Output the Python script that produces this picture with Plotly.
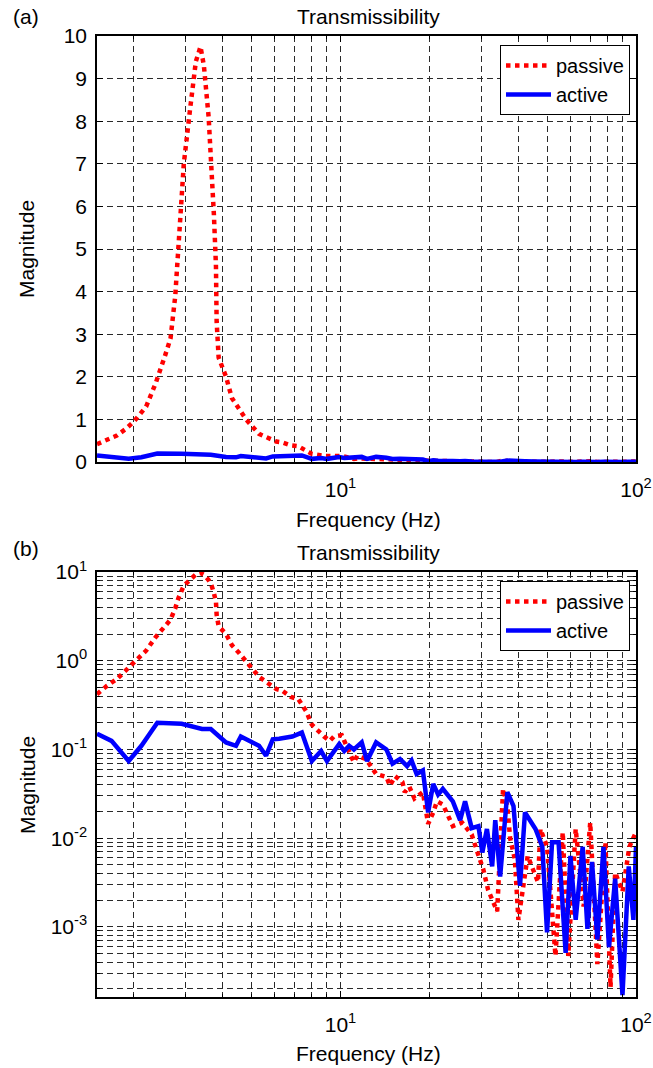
import plotly.graph_objects as go

# ---------------- data ----------------
passive_f = [1.5, 1.62, 1.75, 1.88, 2.0, 2.2, 2.37, 2.55, 2.66, 2.76, 2.83, 2.95, 3.1, 3.24, 3.36,
             3.45, 3.58, 3.67, 3.73, 3.79, 3.81, 3.87, 4.1, 4.29, 4.54, 4.79, 5.3, 6.06, 6.35,
             6.8, 7.2, 7.65, 8.0, 8.8, 9.2, 9.5, 10.1, 10.7, 11.1, 11.4, 12.2, 13.2, 14.3,
             14.7, 15.3, 16.2, 16.5, 17.1, 17.8, 19.0, 19.8, 20.6, 21.2, 22.2, 24.0, 25.8,
             27.8, 29.0, 30.4, 31.6, 33.9, 35.5, 36.7, 37.5, 38.9, 40.0, 43.0, 46.6, 47.5,
             50.0, 53.4, 56.5, 59.0, 62.5, 66.5, 70.0, 74.0, 78.8, 82.0, 85.0, 90.0, 95.0, 100.0]
passive_m = [0.42, 0.52, 0.62, 0.78, 0.95, 1.3, 1.85, 2.5, 2.9, 3.9, 5.1, 7.0, 8.3, 9.4, 9.75,
             9.3, 8.1, 6.9, 5.8, 4.6, 3.3, 2.45, 2.0, 1.5, 1.22, 1.0, 0.66, 0.48, 0.46,
             0.39, 0.37, 0.27, 0.19, 0.14, 0.125, 0.14, 0.145, 0.094, 0.072, 0.085, 0.078, 0.053, 0.049,
             0.039, 0.05, 0.043, 0.033, 0.038, 0.028, 0.033, 0.0145, 0.0195, 0.026, 0.024, 0.0137, 0.015,
             0.011, 0.0071, 0.0045, 0.0026, 0.0015, 0.036, 0.023, 0.01, 0.0058, 0.0012, 0.0063, 0.0032, 0.0127,
             0.008, 0.00047, 0.0117, 0.00047, 0.0127, 0.0017, 0.015, 0.00038, 0.009, 0.00021, 0.0041, 0.0025, 0.008, 0.0117]

active_f = [1.5, 1.68, 1.92, 2.12, 2.4, 2.9, 3.4, 3.64, 4.1, 4.43, 4.6, 5.3, 5.6, 5.9, 6.2,
            6.87, 7.4, 8.0, 8.6, 9.0, 9.9, 10.3, 10.7, 11.1, 11.8, 12.3, 13.2, 14.3, 15.0,
            15.9, 16.8, 17.4, 18.1, 19.0, 19.8, 20.6, 21.4, 22.2, 24.0, 25.4, 26.4, 27.8, 29.3,
            30.2, 31.3, 32.6, 33.4, 34.7, 36.7, 38.5, 40.5, 42.1, 45.7, 48.2, 50.0, 52.0, 54.7,
            57.8, 60.0, 62.5, 66.0, 68.5, 71.0, 74.0, 77.6, 81.0, 85.0, 90.0, 94.5, 98.0, 100.0]
active_m = [0.15, 0.125, 0.074, 0.11, 0.2, 0.195, 0.17, 0.17, 0.12, 0.11, 0.14, 0.11, 0.085, 0.13, 0.132,
            0.14, 0.155, 0.074, 0.096, 0.074, 0.115, 0.096, 0.11, 0.1, 0.12, 0.074, 0.12, 0.1, 0.069,
            0.078, 0.065, 0.075, 0.053, 0.058, 0.0195, 0.041, 0.031, 0.036, 0.026, 0.016, 0.026, 0.013, 0.0137,
            0.0069, 0.0127, 0.0048, 0.016, 0.0037, 0.033, 0.023, 0.0029, 0.0195, 0.0127, 0.008, 0.00087, 0.009, 0.009,
            0.00051, 0.0063, 0.0012, 0.008, 0.00095, 0.0054, 0.00072, 0.008, 0.00059, 0.0035, 0.00017, 0.0048, 0.0012, 0.008]

# ---------------- ticks ----------------
x_tickvals = [10, 100]
x_ticktext = ["10<sup>1</sup>", "10<sup>2</sup>"]
x_minorvals = [2, 3, 4, 5, 6, 7, 8, 9, 20, 30, 40, 50, 60, 70, 80, 90]
ylin_tickvals = [0, 1, 2, 3, 4, 5, 6, 7, 8, 9, 10]
ylin_ticktext = ["0", "1", "2", "3", "4", "5", "6", "7", "8", "9", "10"]
ylog_tickvals = [0.001, 0.01, 0.1, 1, 10]
ylog_ticktext = ["10<sup>-3</sup>", "10<sup>-2</sup>", "10<sup>-1</sup>", "10<sup>0</sup>", "10<sup>1</sup>"]
ylog_minorvals = [k * 10.0 ** d for d in (-4, -3, -2, -1, 0) for k in range(2, 10)]

FONT = "Liberation Sans, Arial, sans-serif"
FS = 21
RED = "#ff0000"
BLUE = "#0000ff"

fig = go.Figure()

# top (linear)
fig.add_trace(go.Scatter(x=passive_f, y=passive_m, mode="lines", name="passive",
                         line=dict(color=RED, width=4.5, dash="dot"), xaxis="x", yaxis="y", legend="legend"))
fig.add_trace(go.Scatter(x=active_f, y=active_m, mode="lines", name="active",
                         line=dict(color=BLUE, width=4.5), xaxis="x", yaxis="y", legend="legend"))
# bottom (log)
fig.add_trace(go.Scatter(x=passive_f, y=passive_m, mode="lines", name="passive",
                         line=dict(color=RED, width=4.5, dash="dot"), xaxis="x2", yaxis="y2", legend="legend2"))
fig.add_trace(go.Scatter(x=active_f, y=active_m, mode="lines", name="active",
                         line=dict(color=BLUE, width=4.5), xaxis="x2", yaxis="y2", legend="legend2"))

W, H = 653, 1068
def px(xp):
    return xp / W
def py(yp):
    return 1 - yp / H

GRIDC = "#2a2a2a"
GRIDDASH = "6px,4px"
common = dict(showgrid=True, gridcolor=GRIDC, gridwidth=1, griddash=GRIDDASH,
              showline=True, linecolor="black", linewidth=1.5, mirror="ticks",
              ticks="inside", ticklen=6, tickcolor="black", zeroline=False, automargin=False,
              tickfont=dict(family=FONT, size=FS, color="black"), tickmode="array")
minor_common = dict(tickmode="array", showgrid=True, gridcolor=GRIDC, gridwidth=1, griddash=GRIDDASH,
                    ticks="inside", ticklen=3, tickcolor="black")

fig.update_layout(
    width=W, height=H, margin=dict(l=0, r=0, t=0, b=0, autoexpand=False),
    paper_bgcolor="white", plot_bgcolor="white",
    font=dict(family=FONT, size=FS, color="black"),
    xaxis=dict(type="log", range=[0.1761, 2], domain=[px(97), px(636)], anchor="y",
               tickvals=x_tickvals, ticktext=x_ticktext, ticklabelstandoff=8,
               minor=dict(tickvals=x_minorvals, **minor_common), **common),
    yaxis=dict(range=[0, 10], domain=[py(462), py(36)], anchor="x",
               tickvals=ylin_tickvals, ticktext=ylin_ticktext, ticklabelstandoff=4, **common),
    xaxis2=dict(type="log", range=[0.1761, 2], domain=[px(97), px(636)], anchor="y2",
                tickvals=x_tickvals, ticktext=x_ticktext, ticklabelstandoff=8,
                minor=dict(tickvals=x_minorvals, **minor_common), **common),
    yaxis2=dict(type="log", range=[-3.79, 1.0], domain=[py(997), py(572)], anchor="x2",
                tickvals=ylog_tickvals, ticktext=ylog_ticktext, ticklabelstandoff=4,
                minor=dict(tickvals=ylog_minorvals, **minor_common), **common),
    legend=dict(x=px(630), y=py(45), xanchor="right", yanchor="top", bgcolor="white",
                bordercolor="black", borderwidth=1, font=dict(family=FONT, size=FS - 1),
                tracegroupgap=0, itemwidth=45),
    legend2=dict(x=px(630), y=py(581), xanchor="right", yanchor="top", bgcolor="white",
                 bordercolor="black", borderwidth=1, font=dict(family=FONT, size=FS - 1),
                 tracegroupgap=0, itemwidth=45),
    showlegend=True,
)

ann = [
    dict(text="(a)", x=px(11), y=py(16), xanchor="left"),
    dict(text="Transmissibility", x=px(368), y=py(16), xanchor="center"),
    dict(text="Frequency (Hz)", x=px(368), y=py(519), xanchor="center"),
    dict(text="Magnitude", x=px(27), y=py(249), xanchor="center", textangle=-90),
    dict(text="(b)", x=px(11), y=py(548), xanchor="left"),
    dict(text="Transmissibility", x=px(368), y=py(552), xanchor="center"),
    dict(text="Frequency (Hz)", x=px(368), y=py(1053), xanchor="center"),
    dict(text="Magnitude", x=px(27), y=py(785), xanchor="center", textangle=-90),
]
for a in ann:
    fig.add_annotation(xref="paper", yref="paper", yanchor="middle", showarrow=False,
                       font=dict(family=FONT, size=FS, color="black"), **a)

fig.write_html("out.html")
